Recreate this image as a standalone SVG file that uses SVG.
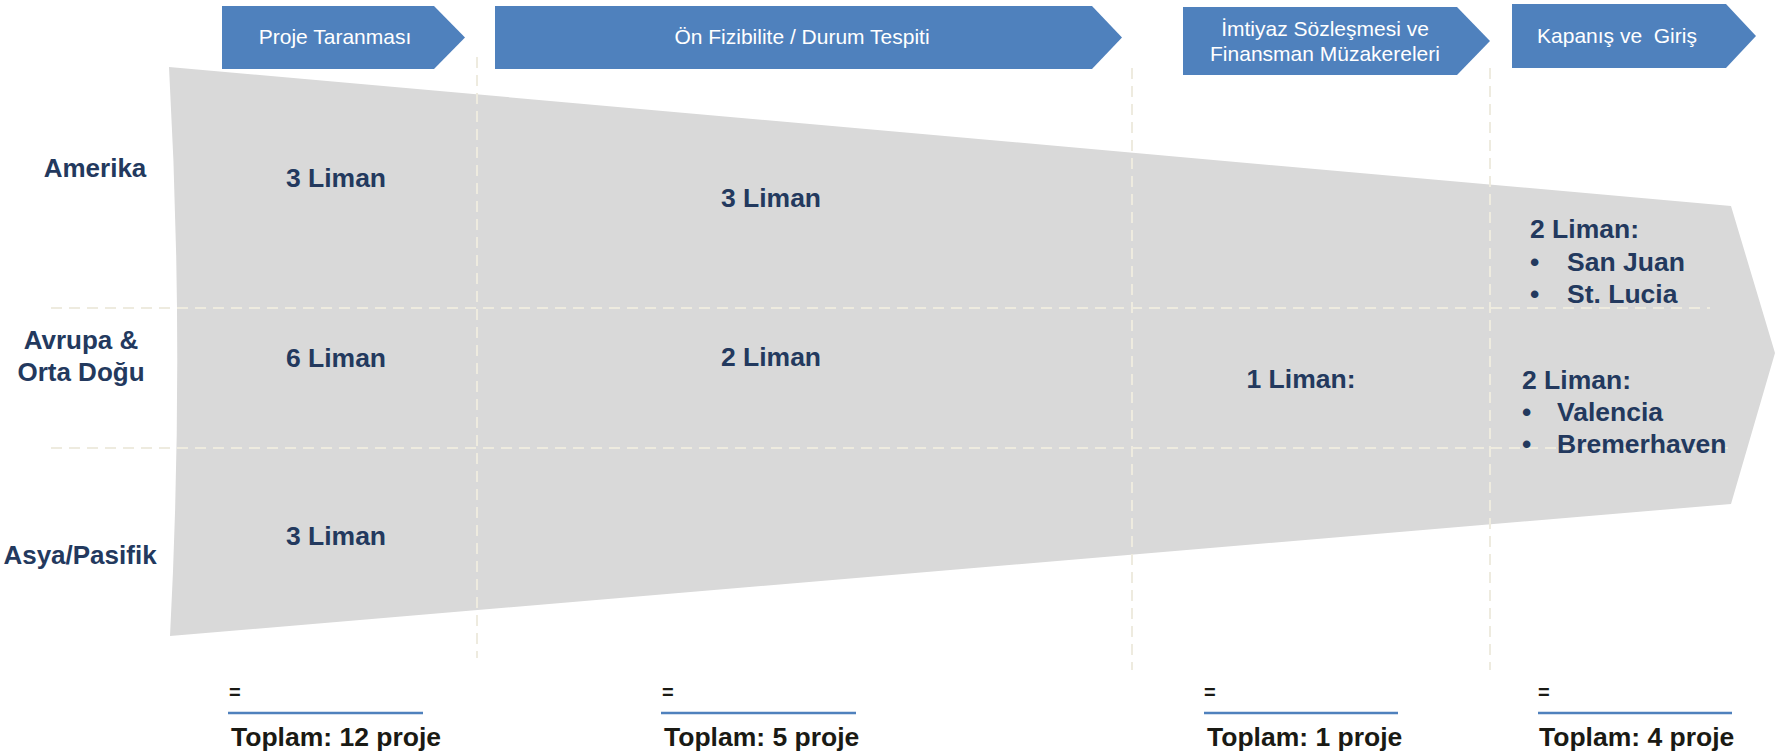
<svg xmlns="http://www.w3.org/2000/svg" width="1783" height="756" viewBox="0 0 1783 756">
<style>
.stage{fill:#4F81BD}
.stxt{font-family:"Liberation Sans",Arial,sans-serif;font-size:21px;fill:#FFFFFF;text-anchor:middle}
.reg{font-family:"Liberation Sans",Arial,sans-serif;font-size:26px;font-weight:bold;fill:#23395E;text-anchor:middle}
.lim{font-family:"Liberation Sans",Arial,sans-serif;font-size:26.5px;font-weight:bold;fill:#23395E}
.mid{text-anchor:middle}
.grid{stroke:#EEEBDF;stroke-width:2;stroke-dasharray:11 7;fill:none}
.eq{font-family:"Liberation Sans",Arial,sans-serif;font-size:20px;font-weight:bold;fill:#1A1A14}
.tot{font-family:"Liberation Sans",Arial,sans-serif;font-size:26.5px;font-weight:bold;fill:#1A1A14}
.uline{stroke:#4F81BD;stroke-width:2.5}
</style>
<rect width="1783" height="756" fill="#FFFFFF"/>
<g id="funnel">
<path d="M169,67 L1731,206 L1775,353 L1731,504 L170,636 Q185,351 169,67 Z" fill="#D9D9D9"/>
</g>
<g id="connectors">
<line class="grid" x1="51" y1="308" x2="1710" y2="308"/>
<line class="grid" x1="51" y1="448" x2="1728" y2="448"/>
<line class="grid" x1="477" y1="57" x2="477" y2="658"/>
<line class="grid" x1="1132" y1="68" x2="1132" y2="670"/>
<line class="grid" x1="1490" y1="68" x2="1490" y2="670"/>
</g>
<g id="stage1">
<polygon class="stage" points="222,6 434,6 465,37.5 434,69 222,69"/>
<text class="stxt" x="335" y="44">Proje Taranması</text>
</g>
<g id="stage2">
<polygon class="stage" points="495,6 1092,6 1122,37.5 1092,69 495,69"/>
<text class="stxt" x="802" y="44">Ön Fizibilite / Durum Tespiti</text>
</g>
<g id="stage3">
<polygon class="stage" points="1183,7 1457,7 1490,41 1457,75 1183,75"/>
<text class="stxt" x="1325" y="36">İmtiyaz Sözleşmesi ve</text>
<text class="stxt" x="1325" y="61">Finansman Müzakereleri</text>
</g>
<g id="stage4">
<polygon class="stage" points="1512,4 1726,4 1756,36 1726,68 1512,68"/>
<text class="stxt" x="1617" y="43" style="white-space:pre">Kapanış ve  Giriş</text>
</g>
<g id="region-amerika">
<text class="reg" x="95" y="177">Amerika</text>
</g>
<g id="region-avrupa">
<text class="reg" x="81" y="349">Avrupa &amp;</text>
<text class="reg" x="81" y="381">Orta Doğu</text>
</g>
<g id="region-asya">
<text class="reg" x="80" y="564">Asya/Pasifik</text>
</g>
<g id="col1">
<text class="lim mid" x="336" y="187">3 Liman</text>
<text class="lim mid" x="336" y="367">6 Liman</text>
<text class="lim mid" x="336" y="545">3 Liman</text>
</g>
<g id="col2">
<text class="lim mid" x="771" y="207">3 Liman</text>
<text class="lim mid" x="771" y="366">2 Liman</text>
</g>
<g id="col3">
<text class="lim mid" x="1301" y="388">1 Liman:</text>
</g>
<g id="col4">
<text class="lim" x="1530" y="238">2 Liman:</text>
<text class="lim" x="1530" y="271">•</text>
<text class="lim" x="1567" y="271">San Juan</text>
<text class="lim" x="1530" y="303">•</text>
<text class="lim" x="1567" y="303">St. Lucia</text>
<text class="lim" x="1522" y="389">2 Liman:</text>
<text class="lim" x="1522" y="421">•</text>
<text class="lim" x="1557" y="421">Valencia</text>
<text class="lim" x="1522" y="453">•</text>
<text class="lim" x="1557" y="453">Bremerhaven</text>
</g>
<g id="total1">
<text class="eq" x="229" y="699">=</text>
<line class="uline" x1="228" y1="713" x2="423" y2="713"/>
<text class="tot" x="231" y="746">Toplam: 12 proje</text>
</g>
<g id="total2">
<text class="eq" x="662" y="699">=</text>
<line class="uline" x1="661" y1="713" x2="856" y2="713"/>
<text class="tot" x="664" y="746">Toplam: 5 proje</text>
</g>
<g id="total3">
<text class="eq" x="1204" y="699">=</text>
<line class="uline" x1="1204" y1="713" x2="1398" y2="713"/>
<text class="tot" x="1207" y="746">Toplam: 1 proje</text>
</g>
<g id="total4">
<text class="eq" x="1538" y="699">=</text>
<line class="uline" x1="1538" y1="713" x2="1732" y2="713"/>
<text class="tot" x="1539" y="746">Toplam: 4 proje</text>
</g>
</svg>
